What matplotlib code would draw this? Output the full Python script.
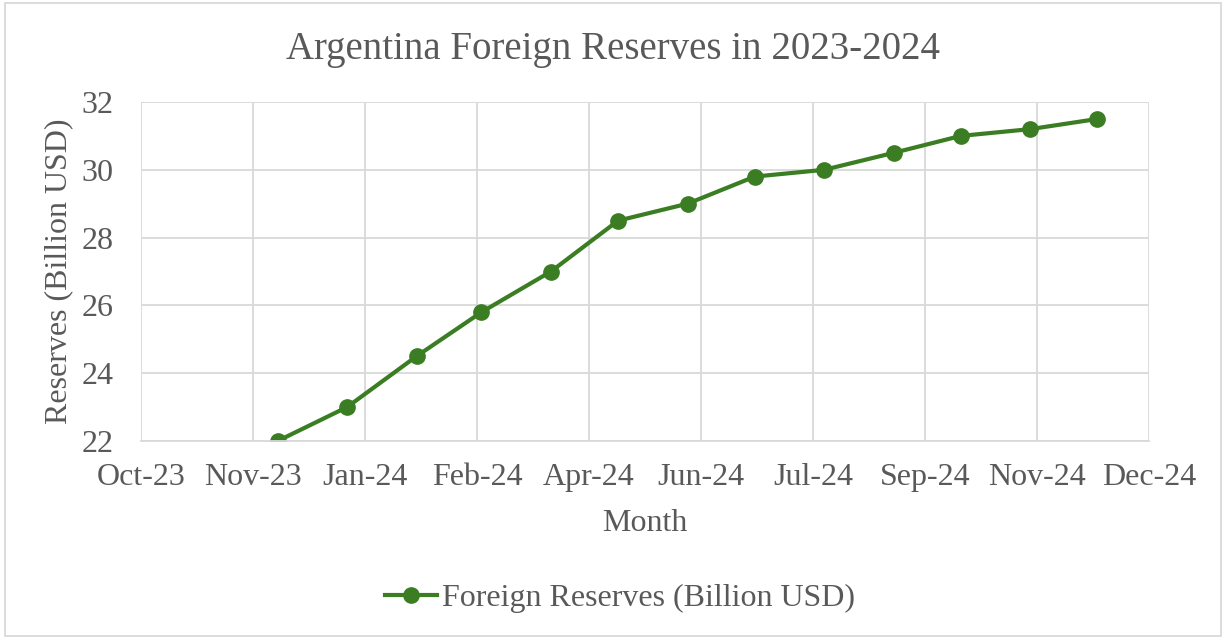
import datetime as dt
import matplotlib.pyplot as plt
import matplotlib.dates as mdates

plt.rcParams['font.family'] = ['Liberation Serif', 'DejaVu Serif']

# Données mensuelles
months = ['2023-12-01', '2024-01-01', '2024-02-01', '2024-03-01', '2024-04-01',
          '2024-05-01', '2024-06-01', '2024-07-01', '2024-08-01', '2024-09-01',
          '2024-10-01', '2024-11-01', '2024-12-01']
reserves = [22, 23, 24.5, 25.8, 27, 28.5, 29, 29.8, 30, 30.5, 31, 31.2, 31.5]

dates = [dt.datetime.strptime(m, '%Y-%m-%d') for m in months]
green = '#3A7D22'
grey = '#595959'

fig = plt.figure(figsize=(12.26, 6.39), dpi=100)
ax = fig.add_axes([141/1226, 1 - 441/639, (1149-141)/1226, (441-102)/639])

ax.plot(dates, reserves, color=green, lw=3, marker='o', ms=11,
        label='Foreign Reserves (Billion USD)')

# Axe des dates façon Excel : un tick tous les 50 jours
start = dt.datetime(2023, 10, 1)
ticks = [start + dt.timedelta(days=50*i) for i in range(10)]
ax.set_xlim(ticks[0], ticks[-1])
ax.set_xticks(ticks)
ax.xaxis.set_major_formatter(mdates.DateFormatter('%b-%y'))
ax.set_ylim(22, 32)
ax.set_yticks(range(22, 33, 2))

ax.grid(True, color='#D9D9D9', lw=1.3)
ax.set_axisbelow(True)
for s in ['top', 'right', 'left']:
    ax.spines[s].set_visible(False)
ax.spines['bottom'].set_color('#D9D9D9')
ax.spines['bottom'].set_linewidth(1.3)
ax.tick_params(length=0, labelsize=23, colors=grey)
ax.tick_params(axis='x', pad=16)
ax.tick_params(axis='y', pad=20)

ax.set_xlabel('Month', fontsize=23, color=grey, labelpad=12)
ax.set_ylabel('Reserves (Billion USD)', fontsize=23, color=grey, labelpad=6)
fig.suptitle('Argentina Foreign Reserves in 2023-2024', fontsize=28, color=grey, y=0.952)

fig.legend(loc='center', bbox_to_anchor=(0.5 + 7/1226, 1 - 598/639), frameon=False,
           fontsize=23, labelcolor=grey, handlelength=1.65, handletextpad=0.15)

# Cadre du graphique
fig.patches.append(plt.Rectangle((0.004, 0.004), 0.992, 0.992, transform=fig.transFigure,
                                 fill=False, edgecolor='#D9D9D9', lw=1.3))

fig.savefig('out.png', dpi=100)
